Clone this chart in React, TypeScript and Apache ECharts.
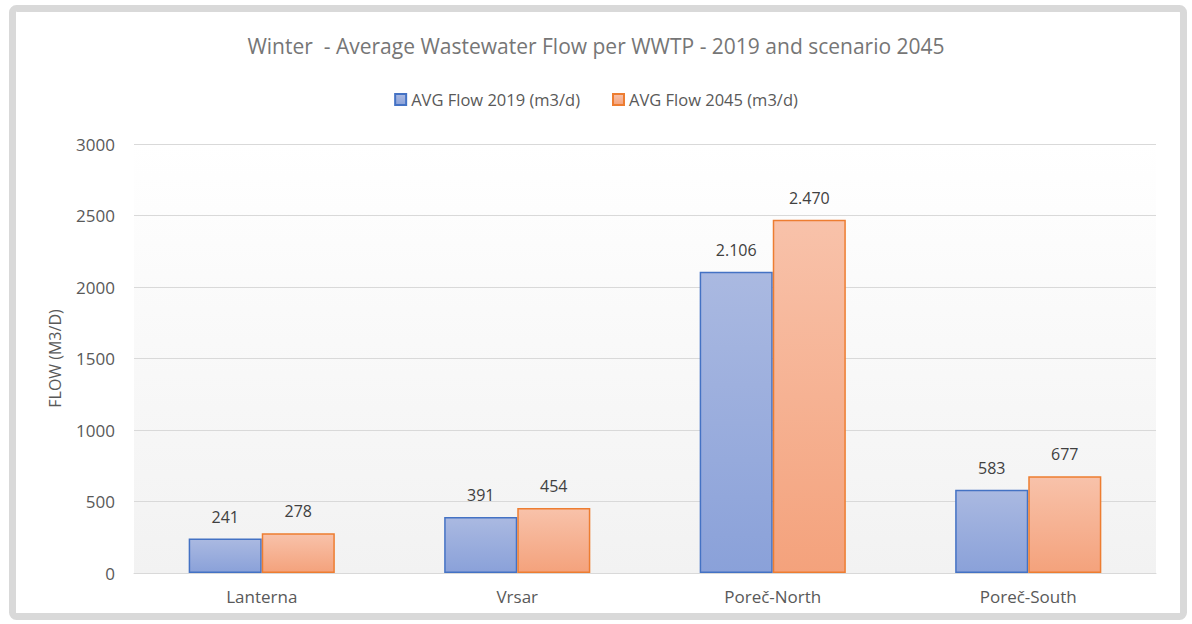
import React, { useEffect, useRef } from "react";
import * as echarts from "echarts";

const categories = ["Lanterna", "Vrsar", "Poreč-North", "Poreč-South"];
const flow2019 = [241, 391, 2106, 583];
const flow2045 = [278, 454, 2470, 677];
const seriesNames = ["AVG Flow 2019 (m3/d)", "AVG Flow 2045 (m3/d)"];
const titleText = "Winter  - Average Wastewater Flow per WWTP - 2019 and scenario 2045";
const yAxisName = "FLOW (M3/D)";

const FONT = "'Open Sans', 'Noto Sans', sans-serif";

const fmt = (v: number) => {
  if (v >= 1000) {
    const s = String(v);
    return s.slice(0, s.length - 3) + "." + s.slice(s.length - 3);
  }
  return String(v);
};

export default function App() {
  const ref = useRef<HTMLDivElement>(null);
  useEffect(() => {
    document.body.style.margin = "0";
    const chart = echarts.init(ref.current!, null, { renderer: "svg" });
    const grad = (a: string, b: string) =>
      new echarts.graphic.LinearGradient(0, 0, 0, 1, [
        { offset: 0, color: a },
        { offset: 1, color: b },
      ]);
    const labelCfg = {
      show: true,
      position: "top",
      distance: 14,
      fontFamily: FONT,
      fontSize: 16,
      color: "#404040",
      formatter: (p: any) => fmt(p.value),
    };
    chart.setOption({
      animation: false,
      backgroundColor: "#ffffff",
      title: {
        text: titleText,
        left: "center",
        top: 30,
        textStyle: { fontFamily: FONT, fontSize: 21, fontWeight: "normal", color: "#767676" },
      },
      legend: {
        top: 86,
        left: "center",
        itemWidth: 11,
        itemHeight: 11,
        itemGap: 32,
        icon: "rect",
        textStyle: { fontFamily: FONT, fontSize: 16.5, color: "#595959" },
        data: seriesNames,
      },
      grid: {
        left: 134,
        right: 36,
        top: 144,
        bottom: 51,
        show: true,
        borderWidth: 0,
        backgroundColor: grad("#ffffff", "#f2f2f2"),
      },
      graphic: [
        {
          type: "rect",
          shape: { x: 12.5, y: 8.5, width: 1171, height: 608, r: 4 },
          style: { fill: "none", stroke: "#d9d9d9", lineWidth: 7 },
          silent: true,
          z: 100,
        },
      ],
      xAxis: {
        type: "category",
        data: categories,
        axisTick: { show: false },
        axisLine: { lineStyle: { color: "#d9d9d9", width: 1 } },
        axisLabel: { fontFamily: FONT, fontSize: 17, color: "#595959", margin: 15 },
      },
      yAxis: {
        type: "value",
        min: 0,
        max: 3000,
        interval: 500,
        name: yAxisName,
        nameLocation: "middle",
        nameGap: 71,
        nameTextStyle: { fontFamily: FONT, fontSize: 16, color: "#595959" },
        axisLabel: {
          fontFamily: FONT,
          fontSize: 17,
          color: "#595959",
          margin: 19,
          formatter: (v: number) => String(v),
        },
        splitLine: { lineStyle: { color: "#d9d9d9", width: 1 } },
        axisLine: { show: false },
        axisTick: { show: false },
      },
      series: [
        {
          name: seriesNames[0],
          type: "bar",
          data: flow2019,
          barWidth: "28.6%",
          barGap: "0%",
          itemStyle: {
            color: grad("#aab9e1", "#8aa1d9"),
            borderColor: "#4472c4",
            borderWidth: 1.5,
          },
          label: labelCfg,
        },
        {
          name: seriesNames[1],
          type: "bar",
          data: flow2045,
          barWidth: "28.6%",
          itemStyle: {
            color: grad("#f8c2aa", "#f4a27c"),
            borderColor: "#ed7d31",
            borderWidth: 1.5,
          },
          label: labelCfg,
        },
      ],
    });
    return () => chart.dispose();
  }, []);
  return <div ref={ref} style={{ width: 1192, height: 624 }} />;
}
